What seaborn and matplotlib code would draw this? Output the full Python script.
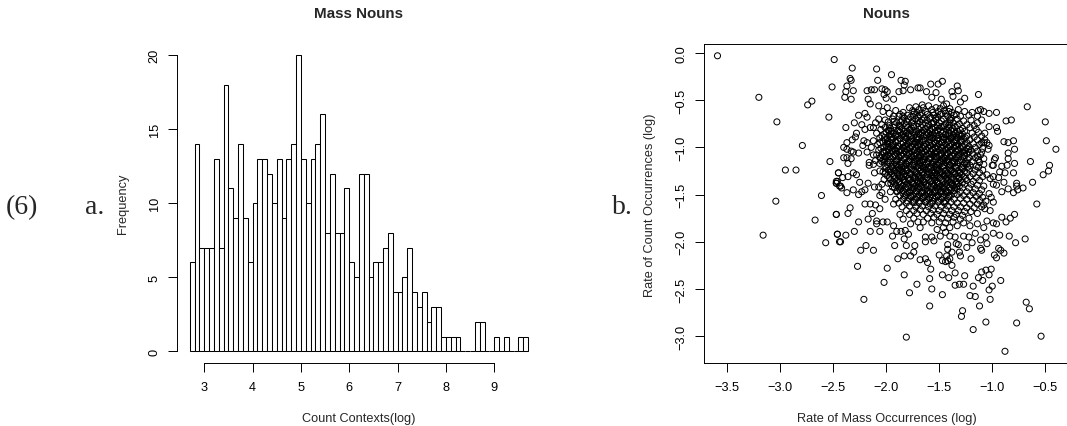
# Mass nouns histogram and nouns scatter
import matplotlib
matplotlib.use("Agg")
import numpy as np
import pandas as pd
import matplotlib.pyplot as plt
import seaborn as sns

# -------------------------------
# Data
# -------------------------------

first_edge = 2.7
bin_width = 0.1
mass_counts = [6, 14, 7, 7, 7, 13, 7, 18, 11, 9, 14, 9, 6, 10, 13, 13, 12, 10, 13, 9,
               13, 14, 20, 13, 10, 13, 14, 16, 8, 12, 8, 8, 11, 6, 5, 12, 12, 5, 6, 6,
               7, 8, 4, 4, 5, 7, 4, 3, 4, 2, 3, 3, 1, 1, 1, 1, 0, 0, 0, 2,
               2, 0, 0, 1, 0, 1, 0, 0, 1, 1]

hist_xticks = [3, 4, 5, 6, 7, 8, 9]
hist_yticks = [0, 5, 10, 15, 20]
scatter_xticks = [-3.5, -3.0, -2.5, -2.0, -1.5, -1.0, -0.5]
scatter_yticks = [0.0, -0.5, -1.0, -1.5, -2.0, -2.5, -3.0]

# points away from the dense middle
outer_points = [
    (-3.59,-0.03),(-3.20,-0.47),(-2.49,-0.07),(-2.51,-0.36),(-2.70,-0.51),(-2.74,-0.55),(-2.54,-0.68),(-3.03,-0.73),
    (-2.79,-0.98),(-2.53,-1.15),(-2.95,-1.24),(-2.85,-1.24),(-2.45,-1.27),(-2.46,-1.36),(-2.47,-1.38),(-2.44,-1.41),
    (-2.61,-1.51),(-3.04,-1.57),(-3.16,-1.93),(-2.67,-1.77),(-2.47,-1.71),(-2.46,-1.92),(-2.57,-2.01),(-2.44,-2.00),
    (-2.32,-0.16),(-2.09,-0.17),(-1.95,-0.23),(-2.08,-0.29),(-2.34,-0.27),(-2.33,-0.29),(-2.37,-0.35),(-2.38,-0.41),
    (-2.31,-0.40),(-2.39,-0.47),(-2.33,-0.49),(-2.18,-0.40),(-2.14,-0.39),(-2.11,-0.39),(-2.04,-0.38),(-2.01,-0.39),
    (-1.99,-0.41),(-2.02,-0.44),(-2.00,-0.48),(-2.17,-0.49),(-2.15,-0.54),(-2.07,-0.56),(-1.99,-0.58),(-1.93,-0.49),
    (-1.88,-0.41),(-1.86,-0.29),(-1.82,-0.30),(-1.83,-0.34),(-1.84,-0.40),(-1.77,-0.39),(-1.70,-0.37),(-1.68,-0.37),
    (-1.62,-0.41),(-1.58,-0.33),(-1.51,-0.33),(-1.47,-0.30),(-1.53,-0.42),(-1.57,-0.47),(-1.48,-0.49),(-1.43,-0.54),
    (-1.38,-0.41),(-1.33,-0.35),(-1.32,-0.40),(-1.37,-0.46),(-1.26,-0.48),(-1.30,-0.52),(-1.40,-0.59),(-1.13,-0.44),
    (-0.67,-0.57),(-0.50,-0.73),(-0.49,-0.93),(-0.40,-1.02),(-0.64,-1.15),(-0.46,-1.19),(-0.47,-1.25),(-0.52,-1.29),
    (-0.62,-1.37),(-0.58,-1.60),(-0.71,-1.43),(-0.77,-1.38),(-0.77,-1.41),(-0.80,-1.48),(-0.76,-1.45),(-0.85,-1.44),
    (-0.91,-1.47),(-0.87,-0.72),(-0.82,-0.71),(-0.96,-0.63),(-1.03,-0.64),(-1.08,-0.62),(-1.11,-0.60),(-1.13,-0.61),
    (-1.14,-0.67),(-1.10,-0.71),(-1.14,-0.74),(-1.19,-0.63),(-0.96,-0.79),(-0.95,-0.83),(-1.03,-0.78),(-0.89,-0.94),
    (-0.85,-0.95),(-0.80,-0.93),(-0.79,-1.02),(-0.85,-1.06),(-0.85,-1.12),(-0.86,-1.19),(-0.79,-1.17),(-0.80,-1.27),
    (-0.91,-1.20),(-0.93,-1.26),(-0.88,-1.27),(-0.94,-1.32),(-0.89,-1.37),(-0.97,-1.11),(-0.98,-1.13),(-0.99,-1.19),
    (-1.00,-1.19),(-0.99,-1.31),(-1.02,-1.33),(-0.96,-1.40),(-0.99,-1.39),(-1.10,-0.95),(-1.05,-0.95),(-1.03,-0.98),
    (-1.04,-1.02),(-1.08,-0.95),(-1.08,-1.12),(-1.08,-1.18),(-1.13,-1.13),(-1.14,-1.09),(-1.10,-1.05),(-1.09,-1.24),
    (-1.13,-1.21),(-1.05,-1.29),(-2.26,-0.66),(-2.20,-0.64),(-2.18,-0.68),(-2.30,-0.74),(-2.23,-0.76),(-2.38,-0.79),
    (-2.20,-0.81),(-2.15,-0.79),(-2.12,-0.79),(-2.28,-0.85),(-2.29,-0.89),(-2.32,-0.92),(-2.21,-0.93),(-2.18,-0.95),
    (-2.22,-0.98),(-2.37,-0.95),(-2.40,-1.00),(-2.37,-1.02),(-2.33,-1.04),(-2.26,-1.06),(-2.31,-1.05),(-2.18,-1.05),
    (-2.40,-1.11),(-2.37,-1.11),(-2.33,-1.12),(-2.36,-1.17),(-2.12,-1.08),(-2.16,-1.16),(-2.12,-1.18),(-2.16,-1.19),
    (-2.10,-1.14),(-2.06,-1.11),(-2.45,-1.27),(-2.41,-1.32),(-2.31,-1.27),(-2.28,-1.29),(-2.36,-1.31),(-2.47,-1.36),
    (-2.47,-1.38),(-2.43,-1.41),(-2.42,-1.43),(-2.37,-1.48),(-2.25,-1.37),(-2.17,-1.38),(-2.31,-1.45),(-2.26,-1.50),
    (-2.23,-1.47),(-2.20,-1.45),(-2.11,-1.27),(-2.06,-1.25),(-2.04,-1.39),(-2.07,-1.42),(-2.11,-1.42),(-2.04,-1.48),
    (-2.06,-1.51),(-2.01,-1.55),(-1.96,-1.47),(-1.93,-1.60),(-2.20,-1.60),(-2.15,-1.60),(-2.10,-1.61),(-2.34,-1.64),
    (-2.36,-1.70),(-2.47,-1.71),(-2.13,-1.70),(-2.06,-1.65),(-2.17,-1.76),(-2.26,-1.79),(-2.09,-1.78),(-2.09,-1.81),
    (-2.03,-1.79),(-1.99,-1.79),(-1.93,-1.83),(-2.15,-1.89),(-2.06,-1.89),(-2.30,-1.89),(-2.38,-1.93),(-2.46,-1.92),
    (-2.43,-2.00),(-1.94,-1.94),(-1.90,-1.89),(-1.86,-1.89),(-2.19,-2.04),(-2.24,-2.09),(-2.12,-2.09),(-1.92,-2.04),
    (-2.27,-2.26),(-1.99,-2.28),(-1.89,-2.18),(-1.83,-2.15),(-1.77,-2.15),(-1.83,-2.35),(-2.02,-2.43),(-2.21,-2.61),
    (-1.78,-2.54),(-1.71,-2.45),(-1.59,-2.39),(-1.58,-2.29),(-1.57,-2.50),(-1.47,-2.56),(-1.59,-2.68),(-1.81,-3.01),
    (-1.28,-2.73),(-1.29,-2.79),(-1.18,-2.93),(-1.06,-2.85),(-1.12,-2.68),(-1.21,-2.57),(-1.16,-2.58),(-1.02,-2.61),
    (-1.03,-2.51),(-1.00,-2.47),(-0.92,-2.41),(-1.09,-2.41),(-1.13,-2.38),(-1.10,-2.32),(-1.06,-2.30),(-1.03,-2.35),
    (-1.01,-2.29),(-1.18,-2.47),(-1.35,-2.46),(-1.31,-2.45),(-1.27,-2.45),(-1.47,-2.35),(-1.41,-2.38),(-1.35,-2.33),
    (-1.26,-2.36),(-0.88,-3.16),(-0.77,-2.86),(-0.54,-3.00),(-0.68,-2.64),(-0.65,-2.71),(-0.69,-1.97),(-0.78,-2.01),
    (-0.84,-1.94),(-0.79,-1.71),(-0.83,-1.75),(-0.87,-1.79),(-0.91,-1.74),(-0.99,-1.80),(-0.96,-1.81),(-0.93,-1.93),
    (-0.99,-1.91),(-0.89,-2.12),(-0.94,-2.07),(-0.92,-2.09),(-0.96,-2.17),(-0.98,-2.14),(-1.10,-2.09),(-1.11,-2.07),
    (-1.05,-2.02),(-1.11,-1.98),(-1.06,-1.95),(-1.20,-2.18),(-1.24,-2.06),(-1.19,-2.01),(-1.16,-1.91),(-1.31,-2.11),
    (-1.30,-2.15),(-1.32,-2.03),(-1.34,-2.02),(-1.50,-2.14),(-1.47,-2.20),(-1.44,-2.21),(-1.42,-2.20),(-1.40,-2.18),
    (-1.43,-2.15),(-1.38,-2.25),(-1.42,-2.08),(-1.42,-2.03),(-1.38,-2.11),(-1.68,-2.19),(-1.63,-2.18),(-1.61,-2.22),
    (-1.73,-2.04),(-1.74,-2.11),(-1.81,-2.04),(-1.83,-1.97),(-1.63,-2.00),(-1.63,-1.95),(-1.55,-1.99),(-1.57,-1.95),
    (-1.79,-1.92),(-1.82,-1.88),(-1.68,-1.85),(-1.65,-1.79),(-1.77,-1.81),(-1.49,-1.94),(-1.44,-1.90),(-1.40,-1.94),
    (-1.35,-1.95),(-1.27,-1.94),(-1.22,-1.95),(-1.52,-1.87),(-1.46,-1.85),(-1.40,-1.85),(-1.27,-1.80),(-1.21,-1.83),
    (-1.14,-1.81),(-1.08,-1.85),(-1.05,-1.78),(-1.14,-1.70),(-1.07,-1.65),(-1.02,-1.67),
]

# the dense middle, only rough positions can be told apart here
core_points = [
    (-1.72,-0.57),(-1.66,-0.55),(-1.60,-0.56),(-1.53,-0.58),(-1.46,-0.56),(-1.75,-0.61),(-1.69,-0.60),(-1.63,-0.62),
    (-1.57,-0.60),(-1.51,-0.62),(-1.45,-0.61),(-1.38,-0.63),(-1.32,-0.60),(-1.26,-0.62),(-1.84,-0.63),(-1.91,-0.61),
    (-1.97,-0.64),(-2.03,-0.62),(-1.80,-0.66),(-1.74,-0.65),(-1.68,-0.66),(-1.61,-0.65),(-1.55,-0.66),(-1.49,-0.65),
    (-1.42,-0.67),(-1.36,-0.66),(-1.30,-0.67),(-1.22,-0.66),(-1.88,-0.67),(-1.94,-0.70),(-2.01,-0.71),(-2.07,-0.70),
    (-1.85,-0.71),(-1.79,-0.70),(-1.72,-0.70),(-1.66,-0.71),(-1.59,-0.69),(-1.53,-0.71),(-1.46,-0.70),(-1.40,-0.71),
    (-1.33,-0.70),(-1.27,-0.72),(-1.20,-0.71),(-1.90,-0.74),(-1.83,-0.75),(-1.76,-0.74),(-1.70,-0.75),(-1.63,-0.74),
    (-1.57,-0.75),(-1.50,-0.74),(-1.44,-0.75),(-1.37,-0.74),(-1.31,-0.75),(-1.24,-0.76),(-1.17,-0.77),(-2.04,-0.76),
    (-1.97,-0.77),(-2.10,-0.74),(-1.93,-0.79),(-1.87,-0.78),(-1.80,-0.79),(-1.74,-0.78),(-1.67,-0.79),(-1.61,-0.78),
    (-1.54,-0.79),(-1.48,-0.78),(-1.41,-0.79),(-1.35,-0.78),(-1.28,-0.80),(-1.21,-0.79),(-1.15,-0.81),(-1.98,-0.82),
    (-2.05,-0.81),(-1.95,-0.83),(-1.89,-0.82),(-1.83,-0.83),(-1.77,-0.82),(-1.71,-0.83),(-1.65,-0.82),(-1.59,-0.83),
    (-1.52,-0.82),(-1.46,-0.83),(-1.39,-0.82),(-1.33,-0.83),(-1.26,-0.83),(-1.19,-0.85),(-1.13,-0.84),(-1.07,-0.85),
    (-2.09,-0.85),(-2.02,-0.86),(-1.97,-0.87),(-1.91,-0.86),(-1.85,-0.87),(-1.79,-0.86),(-1.73,-0.87),(-1.68,-0.86),
    (-1.62,-0.87),(-1.56,-0.86),(-1.50,-0.87),(-1.44,-0.86),(-1.37,-0.87),(-1.31,-0.87),(-1.24,-0.88),(-1.17,-0.89),
    (-1.10,-0.88),(-2.06,-0.90),(-1.99,-0.91),(-1.93,-0.90),(-1.87,-0.91),(-1.81,-0.90),(-1.75,-0.91),(-1.69,-0.90),
    (-1.63,-0.91),(-1.57,-0.90),(-1.51,-0.91),(-1.45,-0.90),(-1.39,-0.91),(-1.33,-0.90),(-1.27,-0.91),(-1.21,-0.92),
    (-1.14,-0.92),(-1.07,-0.92),(-2.12,-0.93),(-2.03,-0.94),(-1.97,-0.95),(-1.91,-0.94),(-1.84,-0.95),(-1.78,-0.94),
    (-1.72,-0.95),(-1.66,-0.94),(-1.60,-0.95),(-1.54,-0.94),(-1.48,-0.95),(-1.42,-0.94),(-1.36,-0.95),(-1.30,-0.94),
    (-1.24,-0.95),(-1.18,-0.96),(-1.12,-0.97),(-2.08,-0.97),(-2.00,-0.98),(-1.94,-0.98),(-1.88,-0.99),(-1.82,-0.98),
    (-1.76,-0.99),(-1.70,-0.98),(-1.64,-0.99),(-1.58,-0.98),(-1.52,-0.99),(-1.46,-0.98),(-1.40,-0.99),(-1.34,-0.98),
    (-1.28,-0.99),(-1.22,-0.99),(-1.16,-1.00),(-1.09,-1.01),(-2.14,-1.00),(-2.05,-1.01),(-1.98,-1.02),(-1.92,-1.02),
    (-1.86,-1.03),(-1.80,-1.02),(-1.74,-1.03),(-1.68,-1.02),(-1.62,-1.03),(-1.56,-1.02),(-1.50,-1.03),(-1.44,-1.02),
    (-1.38,-1.03),(-1.32,-1.02),(-1.26,-1.03),(-1.20,-1.03),(-1.14,-1.04),(-2.02,-1.05),(-1.96,-1.06),(-1.90,-1.06),
    (-1.84,-1.07),(-1.78,-1.06),(-1.72,-1.07),(-1.66,-1.06),(-1.60,-1.07),(-1.54,-1.06),(-1.48,-1.07),(-1.42,-1.06),
    (-1.36,-1.07),(-1.30,-1.06),(-1.24,-1.07),(-1.18,-1.07),(-1.11,-1.08),(-2.09,-1.08),(-2.00,-1.09),(-1.94,-1.10),
    (-1.88,-1.10),(-1.82,-1.11),(-1.76,-1.10),(-1.70,-1.11),(-1.64,-1.10),(-1.58,-1.11),(-1.52,-1.10),(-1.46,-1.11),
    (-1.40,-1.10),(-1.34,-1.11),(-1.28,-1.10),(-1.22,-1.11),(-1.16,-1.11),(-2.03,-1.13),(-1.97,-1.14),(-1.91,-1.14),
    (-1.85,-1.15),(-1.79,-1.14),(-1.73,-1.15),(-1.67,-1.14),(-1.61,-1.15),(-1.55,-1.14),(-1.49,-1.15),(-1.43,-1.14),
    (-1.37,-1.15),(-1.31,-1.14),(-1.25,-1.15),(-1.19,-1.15),(-1.12,-1.16),(-2.06,-1.17),(-1.99,-1.18),(-1.93,-1.18),
    (-1.87,-1.19),(-1.81,-1.18),(-1.75,-1.19),(-1.69,-1.18),(-1.63,-1.19),(-1.57,-1.18),(-1.51,-1.19),(-1.45,-1.18),
    (-1.39,-1.19),(-1.33,-1.18),(-1.27,-1.19),(-1.21,-1.19),(-1.15,-1.20),(-2.00,-1.22),(-1.94,-1.22),(-1.88,-1.23),
    (-1.82,-1.22),(-1.76,-1.23),(-1.70,-1.22),(-1.64,-1.23),(-1.58,-1.22),(-1.52,-1.23),(-1.46,-1.22),(-1.40,-1.23),
    (-1.34,-1.22),(-1.28,-1.23),(-1.22,-1.23),(-1.16,-1.24),(-2.03,-1.26),(-1.96,-1.26),(-1.90,-1.27),(-1.84,-1.26),
    (-1.78,-1.27),(-1.72,-1.26),(-1.66,-1.27),(-1.60,-1.26),(-1.54,-1.27),(-1.48,-1.26),(-1.42,-1.27),(-1.36,-1.26),
    (-1.30,-1.27),(-1.24,-1.27),(-1.18,-1.28),(-1.12,-1.27),(-1.99,-1.30),(-1.93,-1.30),(-1.87,-1.31),(-1.81,-1.30),
    (-1.75,-1.31),(-1.69,-1.30),(-1.63,-1.31),(-1.57,-1.30),(-1.51,-1.31),(-1.45,-1.30),(-1.39,-1.31),(-1.33,-1.30),
    (-1.27,-1.31),(-1.21,-1.31),(-1.15,-1.32),(-1.09,-1.31),(-2.02,-1.34),(-1.96,-1.34),(-1.90,-1.35),(-1.84,-1.34),
    (-1.78,-1.35),(-1.72,-1.34),(-1.66,-1.35),(-1.60,-1.34),(-1.54,-1.35),(-1.48,-1.34),(-1.42,-1.35),(-1.36,-1.34),
    (-1.30,-1.35),(-1.24,-1.35),(-1.18,-1.36),(-1.12,-1.35),(-1.98,-1.38),(-1.92,-1.38),(-1.86,-1.39),(-1.80,-1.38),
    (-1.74,-1.39),(-1.68,-1.38),(-1.62,-1.39),(-1.56,-1.38),(-1.50,-1.39),(-1.44,-1.38),(-1.38,-1.39),(-1.32,-1.38),
    (-1.26,-1.39),(-1.20,-1.39),(-1.14,-1.40),(-1.08,-1.41),(-1.94,-1.42),(-1.88,-1.43),(-1.82,-1.42),(-1.76,-1.43),
    (-1.70,-1.42),(-1.64,-1.43),(-1.58,-1.42),(-1.52,-1.43),(-1.46,-1.42),(-1.40,-1.43),(-1.34,-1.42),(-1.28,-1.43),
    (-1.22,-1.43),(-1.16,-1.44),(-1.10,-1.45),(-1.90,-1.47),(-1.84,-1.46),(-1.78,-1.47),(-1.72,-1.46),(-1.66,-1.47),
    (-1.60,-1.46),(-1.54,-1.47),(-1.48,-1.46),(-1.42,-1.47),(-1.36,-1.46),(-1.30,-1.47),(-1.24,-1.47),(-1.18,-1.48),
    (-1.12,-1.49),(-1.03,-1.49),(-1.87,-1.51),(-1.81,-1.50),(-1.75,-1.51),(-1.69,-1.50),(-1.63,-1.51),(-1.57,-1.50),
    (-1.51,-1.51),(-1.45,-1.50),(-1.39,-1.51),(-1.33,-1.50),(-1.27,-1.51),(-1.21,-1.51),(-1.15,-1.52),(-1.09,-1.53),
    (-1.01,-1.53),(-1.91,-1.55),(-1.84,-1.55),(-1.78,-1.54),(-1.72,-1.55),(-1.66,-1.54),(-1.60,-1.55),(-1.54,-1.54),
    (-1.48,-1.55),(-1.42,-1.54),(-1.36,-1.55),(-1.30,-1.54),(-1.24,-1.55),(-1.18,-1.56),(-1.12,-1.56),(-1.06,-1.57),
    (-0.99,-1.58),(-1.88,-1.59),(-1.81,-1.59),(-1.75,-1.58),(-1.69,-1.59),(-1.63,-1.58),(-1.57,-1.59),(-1.51,-1.58),
    (-1.45,-1.59),(-1.39,-1.58),(-1.33,-1.59),(-1.27,-1.59),(-1.21,-1.60),(-1.14,-1.60),(-1.08,-1.61),(-1.85,-1.63),
    (-1.78,-1.62),(-1.72,-1.63),(-1.66,-1.62),(-1.60,-1.63),(-1.54,-1.62),(-1.48,-1.63),(-1.42,-1.62),(-1.36,-1.63),
    (-1.30,-1.63),(-1.24,-1.64),(-1.17,-1.64),(-1.10,-1.63),(-1.81,-1.67),(-1.74,-1.67),(-1.68,-1.66),(-1.62,-1.67),
    (-1.56,-1.66),(-1.50,-1.67),(-1.44,-1.66),(-1.38,-1.67),(-1.32,-1.67),(-1.26,-1.68),(-1.20,-1.68),(-1.87,-1.71),
    (-1.78,-1.71),(-1.71,-1.70),(-1.65,-1.71),(-1.58,-1.70),(-1.52,-1.71),(-1.46,-1.70),(-1.40,-1.71),(-1.34,-1.71),
    (-1.28,-1.72),(-1.84,-1.76),(-1.74,-1.75),(-1.61,-1.75),(-1.55,-1.74),(-1.48,-1.75),(-1.42,-1.75),(-1.36,-1.74),
    (-1.30,-1.76),(-1.22,-1.75),(-1.70,-1.79),(-1.57,-1.80),(-1.50,-1.79),(-1.44,-1.80),(-1.37,-1.79),(-1.33,-1.83),
]

# black centre of the cloud, circles overlap too much to read them one by one
black_points = [
    (-1.78,-0.58),(-1.71,-0.63),(-1.65,-0.58),(-1.56,-0.63),(-1.49,-0.59),(-1.41,-0.62),(-1.87,-0.65),(-1.77,-0.68),
    (-1.70,-0.67),(-1.58,-0.68),(-1.51,-0.68),(-1.44,-0.64),(-1.34,-0.65),(-1.93,-0.67),(-1.83,-0.69),(-1.75,-0.72),
    (-1.64,-0.69),(-1.55,-0.73),(-1.48,-0.72),(-1.39,-0.69),(-1.98,-0.73),(-1.92,-0.76),(-1.86,-0.73),(-1.81,-0.77),
    (-1.74,-0.76),(-1.68,-0.73),(-1.60,-0.76),(-1.52,-0.77),(-1.45,-0.77),(-1.40,-0.74),(-1.33,-0.77),(-2.01,-0.79),
    (-1.96,-0.80),(-1.85,-0.80),(-1.78,-0.81),(-1.69,-0.81),(-1.63,-0.80),(-1.56,-0.81),(-1.50,-0.80),(-1.43,-0.81),
    (-1.37,-0.80),(-1.30,-0.82),(-2.00,-0.84),(-1.93,-0.85),(-1.87,-0.84),(-1.81,-0.85),(-1.75,-0.84),(-1.66,-0.84),
    (-1.60,-0.85),(-1.54,-0.84),(-1.47,-0.85),(-1.41,-0.84),(-1.35,-0.85),(-1.28,-0.86),(-2.04,-0.88),(-1.95,-0.89),
    (-1.89,-0.88),(-1.83,-0.89),(-1.77,-0.88),(-1.71,-0.89),(-1.65,-0.88),(-1.59,-0.89),(-1.53,-0.88),(-1.47,-0.89),
    (-1.41,-0.88),(-1.34,-0.89),(-1.29,-0.88),(-2.01,-0.92),(-1.95,-0.92),(-1.89,-0.93),(-1.82,-0.92),(-1.77,-0.93),
    (-1.71,-0.92),(-1.65,-0.93),(-1.59,-0.92),(-1.52,-0.93),(-1.46,-0.92),(-1.41,-0.93),(-1.35,-0.92),(-1.29,-0.93),
    (-2.06,-0.95),(-1.99,-0.96),(-1.93,-0.97),(-1.86,-0.96),(-1.80,-0.97),(-1.74,-0.96),(-1.68,-0.97),(-1.62,-0.96),
    (-1.56,-0.97),(-1.50,-0.96),(-1.44,-0.97),(-1.38,-0.96),(-1.32,-0.97),(-1.26,-0.97),(-2.02,-1.00),(-1.96,-1.00),
    (-1.90,-1.01),(-1.84,-1.00),(-1.78,-1.01),(-1.72,-1.00),(-1.66,-1.01),(-1.60,-1.00),(-1.54,-1.01),(-1.48,-1.00),
    (-1.42,-1.01),(-1.36,-1.00),(-1.30,-1.01),(-1.24,-1.01),(-2.07,-1.03),(-2.00,-1.04),(-1.94,-1.04),(-1.88,-1.05),
    (-1.82,-1.04),(-1.76,-1.05),(-1.70,-1.04),(-1.64,-1.05),(-1.58,-1.04),(-1.52,-1.05),(-1.46,-1.04),(-1.40,-1.05),
    (-1.34,-1.04),(-1.28,-1.05),(-1.22,-1.05),(-2.04,-1.08),(-1.98,-1.08),(-1.92,-1.08),(-1.86,-1.09),(-1.80,-1.08),
    (-1.74,-1.09),(-1.68,-1.08),(-1.62,-1.09),(-1.56,-1.08),(-1.50,-1.09),(-1.44,-1.08),(-1.38,-1.09),(-1.32,-1.08),
    (-1.26,-1.09),(-2.01,-1.12),(-1.95,-1.12),(-1.89,-1.13),(-1.83,-1.12),(-1.77,-1.13),(-1.71,-1.12),(-1.65,-1.13),
    (-1.59,-1.12),(-1.53,-1.13),(-1.47,-1.12),(-1.41,-1.13),(-1.35,-1.12),(-1.29,-1.13),(-1.23,-1.13),(-2.04,-1.15),
    (-1.98,-1.16),(-1.92,-1.16),(-1.86,-1.17),(-1.80,-1.16),(-1.74,-1.17),(-1.68,-1.16),(-1.62,-1.17),(-1.56,-1.16),
    (-1.50,-1.17),(-1.44,-1.16),(-1.38,-1.17),(-1.32,-1.16),(-1.26,-1.17),(-2.01,-1.20),(-1.95,-1.20),(-1.89,-1.21),
    (-1.83,-1.20),(-1.77,-1.21),(-1.71,-1.20),(-1.65,-1.21),(-1.59,-1.20),(-1.53,-1.21),(-1.47,-1.20),(-1.41,-1.21),
    (-1.35,-1.20),(-1.29,-1.21),(-1.23,-1.21),(-1.98,-1.24),(-1.92,-1.25),(-1.86,-1.24),(-1.80,-1.25),(-1.74,-1.24),
    (-1.68,-1.25),(-1.62,-1.24),(-1.56,-1.25),(-1.50,-1.24),(-1.44,-1.25),(-1.38,-1.24),(-1.32,-1.25),(-1.26,-1.25),
    (-2.01,-1.28),(-1.95,-1.28),(-1.89,-1.29),(-1.83,-1.28),(-1.77,-1.29),(-1.71,-1.28),(-1.65,-1.29),(-1.59,-1.28),
    (-1.53,-1.29),(-1.47,-1.28),(-1.41,-1.29),(-1.35,-1.28),(-1.29,-1.29),(-1.97,-1.32),(-1.91,-1.33),(-1.85,-1.32),
    (-1.79,-1.33),(-1.73,-1.32),(-1.67,-1.33),(-1.61,-1.32),(-1.55,-1.33),(-1.49,-1.32),(-1.43,-1.33),(-1.37,-1.32),
    (-1.31,-1.33),(-1.25,-1.33),(-1.94,-1.36),(-1.88,-1.37),(-1.82,-1.36),(-1.76,-1.37),(-1.70,-1.36),(-1.64,-1.37),
    (-1.58,-1.36),(-1.52,-1.37),(-1.46,-1.36),(-1.40,-1.37),(-1.34,-1.36),(-1.28,-1.37),(-1.91,-1.40),(-1.85,-1.41),
    (-1.79,-1.40),(-1.73,-1.41),(-1.67,-1.40),(-1.61,-1.41),(-1.55,-1.40),(-1.49,-1.41),(-1.43,-1.40),(-1.37,-1.41),
    (-1.31,-1.41),(-1.87,-1.45),(-1.81,-1.44),(-1.75,-1.45),(-1.69,-1.44),(-1.63,-1.45),(-1.57,-1.44),(-1.51,-1.45),
    (-1.45,-1.44),(-1.39,-1.45),(-1.33,-1.44),(-1.84,-1.49),(-1.78,-1.48),(-1.72,-1.49),(-1.66,-1.48),(-1.60,-1.49),
    (-1.54,-1.48),(-1.48,-1.49),(-1.42,-1.48),(-1.36,-1.49),(-1.83,-1.53),(-1.77,-1.52),(-1.71,-1.53),(-1.65,-1.52),
    (-1.59,-1.53),(-1.53,-1.52),(-1.47,-1.53),(-1.41,-1.52),(-1.80,-1.57),(-1.74,-1.56),(-1.68,-1.57),(-1.62,-1.56),
    (-1.56,-1.57),(-1.50,-1.56),(-1.44,-1.57),
]

# more circles in the black part, placed off the rows above
filler_points = [
    (-1.735,-0.625),(-1.615,-0.712),(-1.842,-0.668),(-1.478,-0.645),(-1.392,-0.708),(-1.925,-0.725),(-1.668,-0.637),(-1.534,-0.692),
    (-1.763,-0.794),(-1.872,-0.812),(-1.408,-0.765),(-1.957,-0.851),(-1.588,-0.811),(-1.315,-0.858),(-1.692,-0.853),(-1.486,-0.828),
    (-2.015,-0.895),(-1.816,-0.877),(-1.558,-0.902),(-1.373,-0.892),(-1.648,-0.925),(-1.913,-0.946),(-1.756,-0.938),(-1.437,-0.917),
    (-1.284,-0.944),(-1.982,-0.993),(-1.594,-0.977),(-1.833,-1.012),(-1.702,-0.987),(-1.466,-1.003),(-1.347,-0.983),(-2.032,-1.045),
    (-1.908,-1.036),(-1.624,-1.024),(-1.535,-1.046),(-1.783,-1.067),(-1.396,-1.032),(-1.262,-1.061),(-1.967,-1.097),(-1.853,-1.084),
    (-1.677,-1.098),(-1.486,-1.079),(-1.318,-1.102),(-1.738,-1.128),(-1.592,-1.119),(-2.018,-1.156),(-1.902,-1.143),(-1.429,-1.136),
    (-1.818,-1.172),(-1.653,-1.158),(-1.527,-1.176),(-1.356,-1.162),(-1.946,-1.205),(-1.736,-1.194),(-1.602,-1.218),(-1.457,-1.197),
    (-1.285,-1.214),(-1.878,-1.247),(-1.672,-1.236),(-1.519,-1.244),(-2.006,-1.262),(-1.768,-1.279),(-1.391,-1.251),(-1.612,-1.287),
    (-1.922,-1.308),(-1.457,-1.296),(-1.835,-1.347),(-1.696,-1.322),(-1.312,-1.314),(-1.568,-1.351),(-1.424,-1.366),(-1.749,-1.382),
    (-1.956,-1.382),(-1.627,-1.402),(-1.503,-1.419),(-1.858,-1.432),(-1.356,-1.428),(-1.714,-1.468),(-1.584,-1.476),(-1.436,-1.462),
    (-1.824,-1.512),(-1.652,-1.534),(-1.512,-1.507),(-1.738,-1.586),(-1.586,-1.598),(-1.456,-1.576),(-1.877,-0.769),(-1.726,-0.836),
    (-1.441,-0.867),(-1.792,-0.948),(-1.536,-0.958),(-1.662,-1.048),(-1.447,-1.114),(-1.706,-1.148),(-1.853,-1.208),(-1.494,-1.268),
    (-1.645,-1.366),(-1.794,-1.428),(-1.542,-1.452),(-1.684,-1.516),(-1.973,-0.818),(-1.618,-0.842),(-1.348,-0.936),(-1.893,-0.984),
    (-1.223,-1.018),(-2.053,-1.112),(-1.577,-1.073),(-1.372,-1.143),(-1.964,-1.238),(-1.238,-1.173),(-1.727,-1.305),(-1.876,-1.366),
    (-1.475,-1.338),(-1.337,-1.387),(-1.612,-1.465),(-1.405,-1.506),(-1.556,-0.747),(-1.804,-0.728),(-1.657,-0.762),(-1.367,-0.827),
    (-1.912,-0.883),(-1.508,-0.907),(-1.254,-0.898),(-1.717,-0.909),(-1.943,-1.018),(-1.805,-0.991),(-1.418,-1.062),(-1.638,-1.128),
    (-1.761,-1.091),(-1.549,-1.203),(-1.403,-1.184),(-1.892,-1.274),(-1.654,-1.262),(-1.308,-1.272),(-1.782,-1.348),(-1.517,-1.382),
    (-1.921,-1.428),(-1.663,-1.426),(-1.463,-1.434),(-1.772,-1.508),(-1.563,-1.533),(-1.628,-1.577),(-1.702,-0.716),(-1.462,-0.781),
    (-1.838,-0.862),(-1.576,-0.873),(-1.388,-0.902),(-1.988,-0.938),(-1.686,-0.942),(-1.469,-0.943),(-1.866,-1.036),(-1.726,-1.026),
    (-1.327,-1.037),(-2.012,-1.098),(-1.538,-1.098),(-1.788,-1.146),(-1.463,-1.147),(-1.907,-1.184),(-1.669,-1.196),(-1.344,-1.214),
    (-1.811,-1.238),(-1.571,-1.268),(-1.428,-1.283),(-1.679,-1.354),(-1.836,-1.308),(-1.547,-1.306),(-1.386,-1.342),(-1.896,-1.462),
    (-1.733,-1.431),(-1.483,-1.472),
]

hist_df = pd.DataFrame({
    "centre": first_edge + bin_width * np.arange(len(mass_counts)) + bin_width / 2,
    "count": mass_counts,
})
edges = (first_edge + bin_width * np.arange(len(mass_counts) + 1)).tolist()

scatter_df = pd.DataFrame(outer_points + core_points + black_points + filler_points, columns=["mass", "count"])

# -------------------------------
# Figure
# -------------------------------

W, H = 1067, 427
DARK = "#000000"
sns.set_style("white")
plt.rcParams["font.family"] = ["Liberation Sans", "DejaVu Sans"]

fig = plt.figure(figsize=(W / 100, H / 100), dpi=100)


def axes_px(left, top, right, bottom):
    return fig.add_axes([left / W, 1 - bottom / H, (right - left) / W, (bottom - top) / H])


def style_ticks(ax):
    ax.tick_params(axis="x", length=6.3, width=0.7, color=DARK, labelcolor=DARK,
                   labelsize=9.15, bottom=True, pad=6.7)
    ax.tick_params(axis="y", length=6.3, width=0.7, color=DARK, labelcolor=DARK,
                   labelsize=9.15, left=True, pad=5.3)
    for lab in ax.get_yticklabels():
        lab.set_rotation(90)
        lab.set_va("center")


# Histogram
ax1 = axes_px(176.7, 44.7, 541, 364)
sns.histplot(data=hist_df, x="centre", weights="count", bins=edges, color="white",
             edgecolor=DARK, linewidth=0.75, alpha=1, ax=ax1)
ax1.set_xlim(2.43, 9.966)
ax1.set_ylim(-0.79, 20.78)
ax1.set_xticks(hist_xticks)
ax1.set_yticks(hist_yticks)
sns.despine(ax=ax1)
ax1.spines["left"].set_bounds(0, 20)
ax1.spines["bottom"].set_bounds(3, 9)
for side in ["left", "bottom"]:
    ax1.spines[side].set_linewidth(0.7)
    ax1.spines[side].set_color(DARK)
style_ticks(ax1)
ax1.set_xlabel("")
ax1.set_ylabel("")
fig.text(359 / W, 1 - 14 / H, "Mass Nouns", ha="center", va="center", fontsize=10.9, fontweight="bold")
fig.text(359 / W, 1 - 419 / H, "Count Contexts(log)", ha="center", va="center", fontsize=9.15)
fig.text(122.7 / W, 1 - 204 / H, "Frequency", ha="center", va="center", rotation=90, fontsize=9.15)

# Scatter
ax2 = axes_px(703.7, 44.7, 1069.7, 364)
sns.scatterplot(data=scatter_df, x="mass", y="count", s=19, color="black", linewidth=0.72, ax=ax2)
ax2.collections[0].set_facecolor("none")
ax2.collections[0].set_edgecolor(DARK)
ax2.set_xlim(-3.72, -0.27)
ax2.set_ylim(-3.284, 0.098)
ax2.set_xticks(scatter_xticks)
ax2.set_yticks(scatter_yticks)
ax2.set_xticklabels(["\u22123.5", "\u22123.0", "\u22122.5", "\u22122.0", "\u22121.5", "\u22121.0", "\u22120.5"])
ax2.set_yticklabels(["0.0", "\u22120.5", "\u22121.0", "\u22121.5", "\u22122.0", "\u22122.5", "\u22123.0"])
for side in ax2.spines.values():
    side.set_linewidth(0.7)
    side.set_color(DARK)
style_ticks(ax2)
ax2.set_xlabel("")
ax2.set_ylabel("")
fig.text(886.7 / W, 1 - 14 / H, "Nouns", ha="center", va="center", fontsize=10.9, fontweight="bold")
fig.text(886.7 / W, 1 - 419 / H, "Rate of Mass Occurrences (log)", ha="center", va="center", fontsize=9.15)
fig.text(650 / W, 1 - 205 / H, "Rate of Count Occurrences (log)", ha="center", va="center", rotation=90, fontsize=9.15)

# Example numbering in the surrounding text
for x_px, label in [(22, "(6)"), (94.7, "a."), (622, "b.")]:
    fig.text(x_px / W, 1 - 214 / H, label, ha="center", va="baseline", fontsize=20, family="Liberation Serif")

fig.savefig("out.png", dpi=100)
